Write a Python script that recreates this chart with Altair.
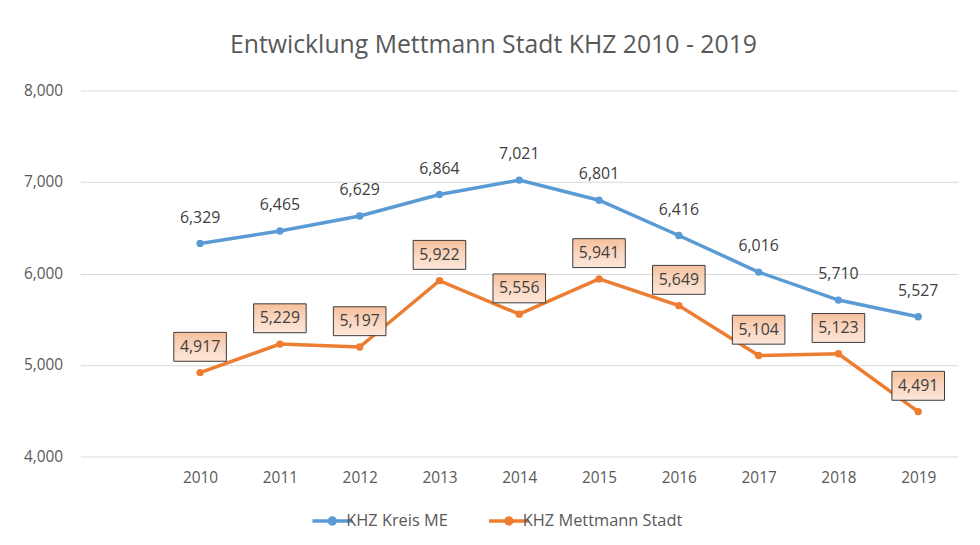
import altair as alt
import pandas as pd

years = [2010, 2011, 2012, 2013, 2014, 2015, 2016, 2017, 2018, 2019]
kreis = [6329, 6465, 6629, 6864, 7021, 6801, 6416, 6016, 5710, 5527]
stadt = [4917, 5229, 5197, 5922, 5556, 5941, 5649, 5104, 5123, 4491]
series_names = ["KHZ Kreis ME", "KHZ Mettmann Stadt"]
colors = ["#5b9bd5", "#ed7d31"]
y_ticks = [4000, 5000, 6000, 7000, 8000]

rows = []
for y, v in zip(years, kreis):
    rows.append({"Jahr": y, "Serie": series_names[0], "Wert": v})
for y, v in zip(years, stadt):
    rows.append({"Jahr": y, "Serie": series_names[1], "Wert": v})
df = pd.DataFrame(rows)

FONT = "Open Sans"

x_enc = alt.X("Jahr:Q", scale=alt.Scale(domain=[2008.5, 2019.5], nice=False, zero=False),
              axis=alt.Axis(values=years, format="d", grid=False, domain=False, ticks=False,
                            labelPadding=14, labelFontSize=15.5, labelColor="#595959",
                            labelFont=FONT, title=None))
y_enc = alt.Y("Wert:Q", scale=alt.Scale(domain=[4000, 8000], nice=False, zero=False),
              axis=alt.Axis(values=y_ticks, format=",.0f", domain=False, ticks=False,
                            gridColor="#d9d9d9", gridWidth=1, labelPadding=18,
                            labelFontSize=15.5, labelColor="#595959", labelFont=FONT, title=None))
color_scale = alt.Scale(domain=series_names, range=colors)

legend_symbol = "M-2,0L2,0M-0.3,0a0.3,0.3 0 1,0 0.6,0a0.3,0.3 0 1,0 -0.6,0"

base = alt.Chart(df)

lines = base.mark_line(strokeWidth=3.5).encode(
    x=x_enc, y=y_enc,
    color=alt.Color("Serie:N", scale=color_scale,
                    legend=alt.Legend(title=None, orient="none", direction="horizontal",
                                      legendX=242, legendY=422, symbolType=legend_symbol,
                                      symbolSize=400, symbolStrokeWidth=3.5,
                                      labelFontSize=16.5, labelColor="#595959", labelFont=FONT,
                                      labelOffset=2, labelLimit=400, columnPadding=34)),
)

points = base.mark_point(filled=True, size=55, opacity=1).encode(
    x=x_enc, y=y_enc,
    color=alt.Color("Serie:N", scale=color_scale, legend=None),
)

blue_labels = base.transform_filter(alt.datum.Serie == series_names[0]).mark_text(
    dy=-26, fontSize=16, font=FONT, color="#404040"
).encode(x=x_enc, y=y_enc, text=alt.Text("Wert:Q", format=","))

box_path = "M-1,-0.55L1,-0.55L1,0.55L-1,0.55Z"
orange_boxes = base.transform_filter(alt.datum.Serie == series_names[1]).mark_point(
    shape=box_path, size=2809, yOffset=-26, filled=True, opacity=1,
    fill=alt.Gradient(gradient="linear", x1=0, x2=0, y1=0, y2=1,
                      stops=[alt.GradientStop(color="#f6c09c", offset=0),
                             alt.GradientStop(color="#fad6c0", offset=0.5),
                             alt.GradientStop(color="#fde7da", offset=1)]),
    stroke="#3a3a3a", strokeWidth=1
).encode(x=x_enc, y=y_enc)

orange_labels = base.transform_filter(alt.datum.Serie == series_names[1]).mark_text(
    dy=-26, fontSize=16, font=FONT, color="#404040"
).encode(x=x_enc, y=y_enc, text=alt.Text("Wert:Q", format=","))

chart = alt.layer(lines, points, blue_labels, orange_boxes, orange_labels).properties(
    width=885, height=369,
    background="white",
    autosize=alt.AutoSizeParams(type="none"),
    padding={"left": 73, "top": 81, "right": 14, "bottom": 87},
    title=alt.TitleParams("Entwicklung Mettmann Stadt KHZ 2010 - 2019", fontSize=25,
                          font=FONT, fontWeight="normal", color="#595959",
                          anchor="middle", dx=-26, offset=26),
).configure_view(strokeWidth=0)

chart.save("out.html", embed_options={"renderer": "svg", "actions": False})
